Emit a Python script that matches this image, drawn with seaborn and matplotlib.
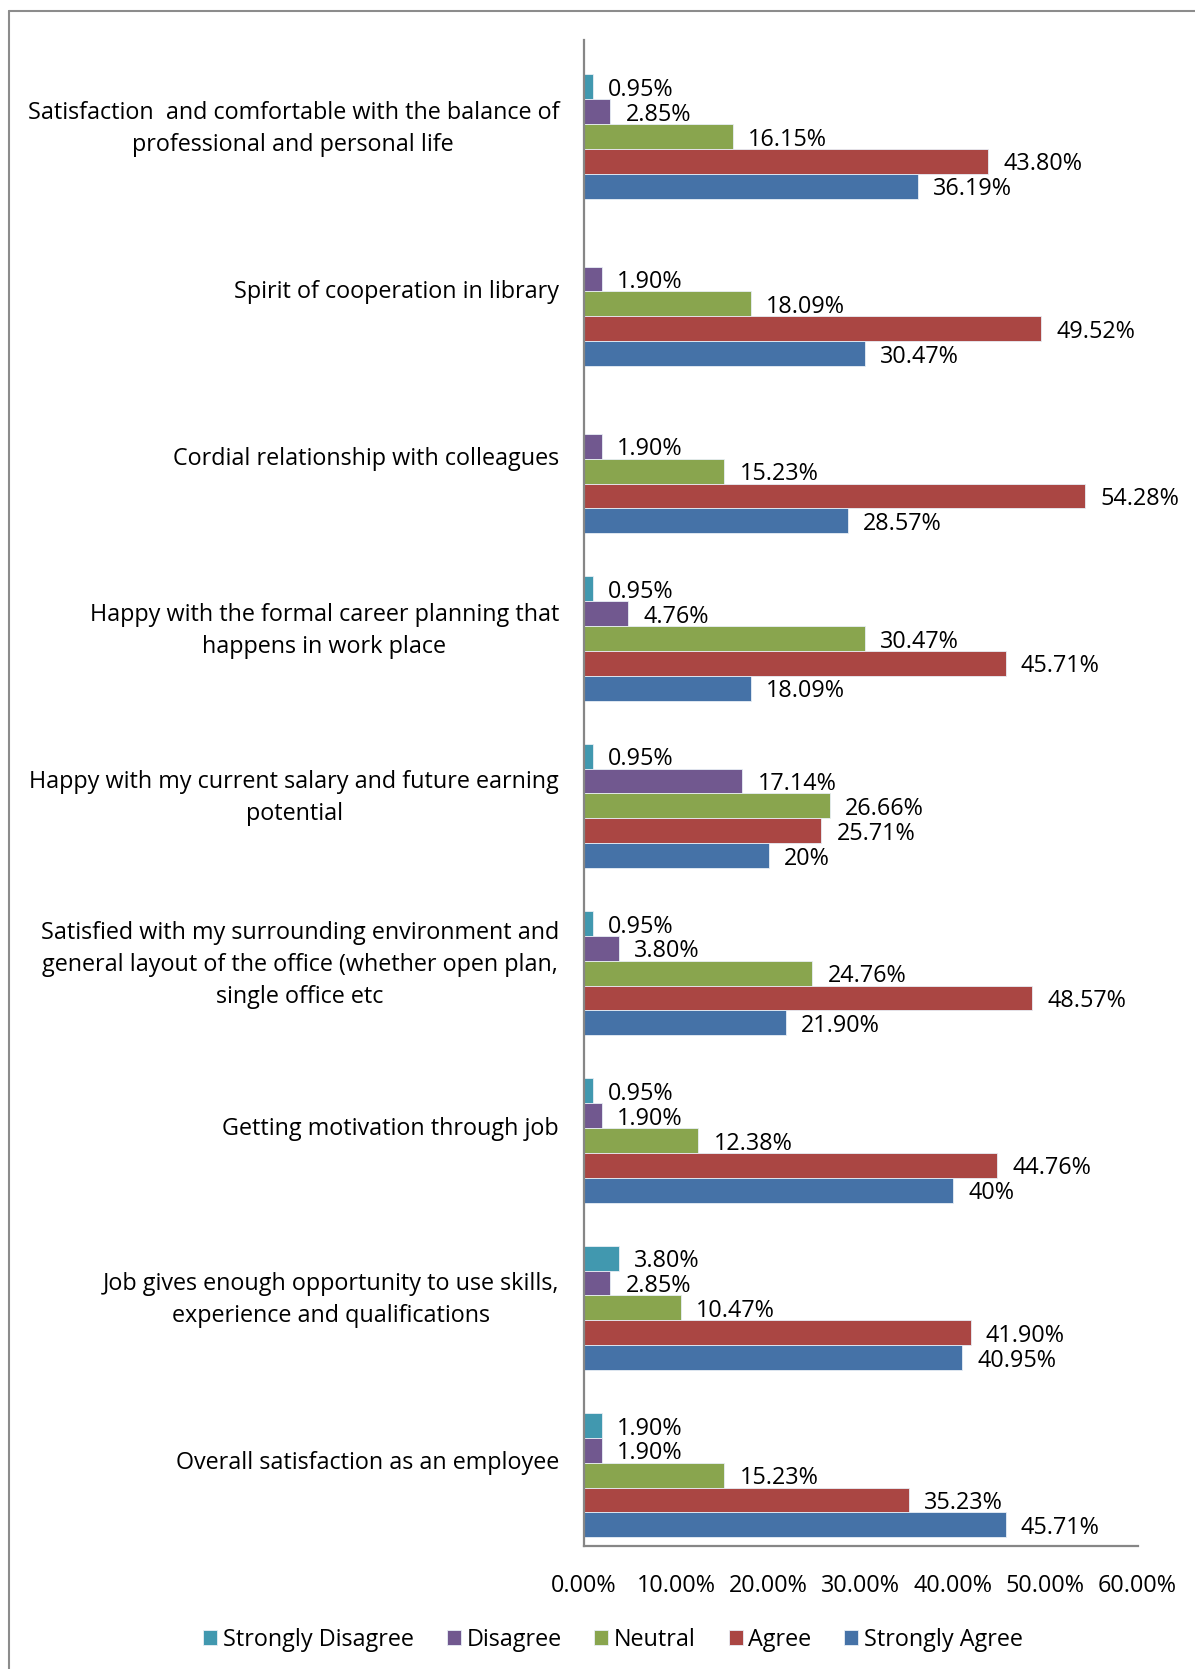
import matplotlib
matplotlib.use("Agg")
import matplotlib.pyplot as plt
import matplotlib.transforms as mtransforms
from matplotlib.lines import Line2D
import seaborn as sns
import pandas as pd

# Survey items (top to bottom) and response shares in percent
items = [
    "Satisfaction  and comfortable with the balance of\nprofessional and personal life",
    "Spirit of cooperation in library",
    "Cordial relationship with colleagues",
    "Happy with the formal career planning that\nhappens in work place",
    "Happy with my current salary and future earning\npotential",
    "Satisfied with my surrounding environment and\ngeneral layout of the office (whether open plan,\nsingle office etc",
    "Getting motivation through job",
    "Job gives enough opportunity to use skills,\nexperience and qualifications",
    "Overall satisfaction as an employee",
]
levels = ["Strongly Disagree", "Disagree", "Neutral", "Agree", "Strongly Agree"]

strongly_disagree = [0.95, 0, 0, 0.95, 0.95, 0.95, 0.95, 3.80, 1.90]
disagree = [2.85, 1.90, 1.90, 4.76, 17.14, 3.80, 1.90, 2.85, 1.90]
neutral = [16.15, 18.09, 15.23, 30.47, 26.66, 24.76, 12.38, 10.47, 15.23]
agree = [43.80, 49.52, 54.28, 45.71, 25.71, 48.57, 44.76, 41.90, 35.23]
strongly_agree = [36.19, 30.47, 28.57, 18.09, 20, 21.90, 40, 40.95, 45.71]

x_ticks = [0, 10, 20, 30, 40, 50, 60]
colors = ["#4198AF", "#71588F", "#89A54E", "#AA4643", "#4572A7"]

series = [strongly_disagree, disagree, neutral, agree, strongly_agree]
df = pd.DataFrame(
    [(it, lv, v) for lv, vals in zip(levels, series) for it, v in zip(items, vals)],
    columns=["item", "level", "value"],
)

sns.set_style("white")
plt.rcParams["font.family"] = ["Open Sans", "DejaVu Sans"]
plt.rcParams["text.color"] = "black"
plt.rcParams["xtick.color"] = "black"
plt.rcParams["ytick.color"] = "black"
FS = 16.8

W, H, DPI = 1195, 1669, 100
fig = plt.figure(figsize=(W / DPI, H / DPI), dpi=DPI)
ax_top, ax_bot = 40, 1546
ax = fig.add_axes([584 / W, 1 - ax_bot / H, (1137.5 - 584) / W, (ax_bot - ax_top) / H])

sns.barplot(
    data=df, y="item", x="value", hue="level", order=items, hue_order=levels,
    palette=colors, orient="h", width=0.742, dodge=True, saturation=1,
    edgecolor="#e8eef5", linewidth=0.6, ax=ax, legend=True,
)

def fmt(v):
    return f"{v:.0f}%" if float(v).is_integer() else f"{v:.2f}%"

for cont, vals in zip(ax.containers, series):
    texts = ax.bar_label(cont, labels=[fmt(v) if v > 0 else "" for v in vals],
                         padding=11, fontsize=FS, color="black")
    # sit the value labels a touch below the bar centre
    for t in texts:
        dx, dy = t.xyann
        t.xyann = (dx, dy - 2.2)

# bar groups sit slightly below the category centre
n = len(items)
offset = 0.0765
ax.set_ylim(n - 0.5 - offset, -0.5 - offset)
ax.set_xlim(0, 60)
ax.set_xticks(x_ticks)
ax.set_xticklabels([f"{t:.2f}%" for t in x_ticks])
ax.set_xlabel("")
ax.set_ylabel("")
ax.tick_params(axis="x", length=0, pad=20, labelsize=FS)
ax.tick_params(axis="y", length=0, pad=18, labelsize=FS)
group_px = (ax_bot - ax_top) / n
shift = mtransforms.ScaledTranslation(0, (offset * group_px + 2) / DPI, fig.dpi_scale_trans)
for lab in ax.get_yticklabels():
    lab.set_multialignment("center")
    lab.set_linespacing(1.45)
    lab.set_transform(lab.get_transform() + shift)

for side in ["top", "right"]:
    ax.spines[side].set_visible(False)
for side in ["left", "bottom"]:
    ax.spines[side].set_color("#868686")
    ax.spines[side].set_linewidth(1.6)

handles, labels = ax.get_legend_handles_labels()
ax.get_legend().remove()
fig.legend(handles, labels, loc="center", ncol=5,
           bbox_to_anchor=(613 / W, 1 - 1640 / H), frameon=False,
           fontsize=FS, handlelength=0.6, handleheight=0.6,
           handletextpad=0.25, columnspacing=1.4)

# outer frame lines
fig.add_artist(Line2D([9 / W, 9 / W], [0, 1 - 11 / H], transform=fig.transFigure,
                      color="#8c8c8c", lw=1.5))
fig.add_artist(Line2D([9 / W, 1], [1 - 11 / H, 1 - 11 / H], transform=fig.transFigure,
                      color="#8c8c8c", lw=1.5))

fig.savefig("out.png", dpi=DPI)
